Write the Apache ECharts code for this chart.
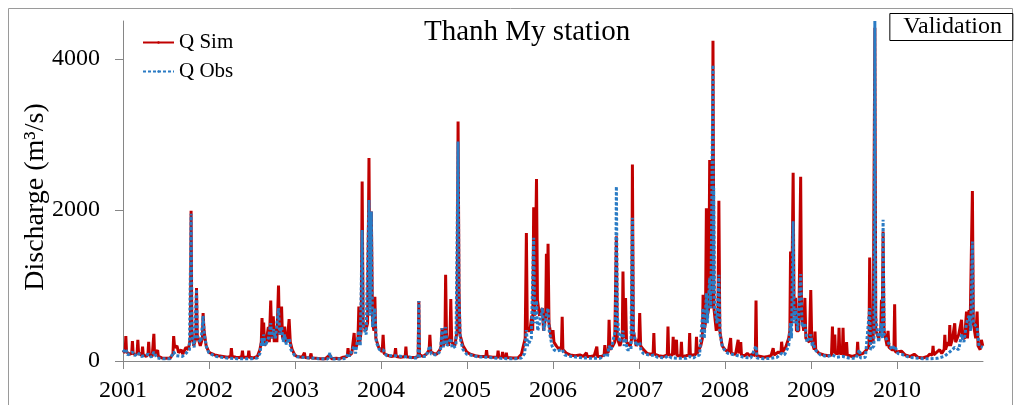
<!DOCTYPE html>
<html>
<head>
<meta charset="utf-8">
<title>Thanh My station</title>
<script src="https://cdn.jsdelivr.net/npm/echarts@6/dist/echarts.min.js"></script>
<style>
  html, body { margin: 0; padding: 0; background: #ffffff; }
  #chart { width: 1016px; height: 405px; }
</style>
</head>
<body>
<div id="chart"></div>
<script>
// Daily discharge at Thanh My station, 2001-2010 (m3/s), key readings per season.
const yearTicks = [2001, 2002, 2003, 2004, 2005, 2006, 2007, 2008, 2009, 2010];
const yTicks = [0, 2000, 4000];

// Simulated discharge (Q Sim)
const qSim = [
  ['2001-01-01',140],['2001-01-10',110],['2001-01-13',330],['2001-01-16',120],['2001-01-28',90],['2001-02-07',100],['2001-02-10',265],['2001-02-13',100],['2001-02-24',80],['2001-03-02',110],['2001-03-05',280],['2001-03-08',110],['2001-03-22',70],['2001-03-25',190],['2001-03-28',80],['2001-04-10',60],['2001-04-17',90],['2001-04-20',255],['2001-04-23',80],['2001-05-05',60],['2001-05-12',360],['2001-05-15',90],['2001-05-28',145],['2001-05-31',60],['2001-06-15',40],['2001-07-01',35],['2001-07-20',40],['2001-08-01',90],['2001-08-04',330],['2001-08-08',180],['2001-08-18',200],['2001-08-25',110],['2001-09-05',150],['2001-09-12',90],['2001-09-25',180],['2001-10-05',150],['2001-10-14',300],['2001-10-17',1990],['2001-10-20',400],['2001-10-28',200],['2001-11-06',300],['2001-11-09',965],['2001-11-12',350],['2001-11-25',200],['2001-12-04',300],['2001-12-07',635],['2001-12-11',400],['2001-12-20',200],['2001-12-31',120],
  ['2002-01-10',100],['2002-01-25',80],['2002-02-10',70],['2002-03-01',60],['2002-03-20',50],['2002-04-03',60],['2002-04-06',170],['2002-04-09',60],['2002-04-25',50],['2002-05-10',45],['2002-05-20',60],['2002-05-23',137],['2002-05-26',50],['2002-06-16',50],['2002-06-19',137],['2002-06-22',50],['2002-07-10',40],['2002-07-25',60],['2002-08-05',150],['2002-08-11',250],['2002-08-14',570],['2002-08-17',300],['2002-08-21',510],['2002-08-25',200],['2002-09-03',300],['2002-09-10',450],['2002-09-14',250],['2002-09-20',800],['2002-09-24',300],['2002-10-01',590],['2002-10-05',250],['2002-10-12',450],['2002-10-16',250],['2002-10-23',1000],['2002-10-27',350],['2002-11-01',500],['2002-11-05',720],['2002-11-09',300],['2002-11-18',455],['2002-11-22',250],['2002-11-30',300],['2002-12-07',555],['2002-12-12',250],['2002-12-20',150],['2002-12-31',80],
  ['2003-01-10',60],['2003-02-01',50],['2003-02-10',110],['2003-02-13',45],['2003-03-05',40],['2003-03-10',100],['2003-03-13',40],['2003-04-01',35],['2003-04-20',30],['2003-05-10',30],['2003-05-29',80],['2003-06-05',30],['2003-06-25',35],['2003-07-10',30],['2003-07-25',50],['2003-08-11',60],['2003-08-14',170],['2003-08-18',70],['2003-08-30',100],['2003-09-06',120],['2003-09-09',370],['2003-09-13',150],['2003-09-25',250],['2003-09-29',720],['2003-10-03',250],['2003-10-09',400],['2003-10-13',2375],['2003-10-17',500],['2003-10-28',400],['2003-11-05',500],['2003-11-11',2685],['2003-11-15',700],['2003-11-21',1980],['2003-11-26',500],['2003-12-02',400],['2003-12-06',850],['2003-12-10',300],['2003-12-22',180],
  ['2004-01-06',120],['2004-01-10',345],['2004-01-14',100],['2004-01-25',80],['2004-02-15',60],['2004-02-28',70],['2004-03-03',170],['2004-03-06',60],['2004-03-25',50],['2004-04-13',60],['2004-04-16',190],['2004-04-19',55],['2004-05-10',45],['2004-05-28',50],['2004-06-07',60],['2004-06-10',795],['2004-06-13',80],['2004-06-28',60],['2004-07-15',100],['2004-07-24',150],['2004-07-27',345],['2004-07-31',120],['2004-08-12',100],['2004-08-25',90],['2004-09-08',150],['2004-09-13',200],['2004-09-17',435],['2004-09-21',200],['2004-09-29',250],['2004-10-02',1140],['2004-10-06',300],['2004-10-14',200],['2004-10-21',350],['2004-10-24',820],['2004-10-28',250],['2004-11-10',200],['2004-11-20',400],['2004-11-24',3170],['2004-11-28',950],['2004-12-02',350],['2004-12-15',200],['2004-12-31',120],
  ['2005-01-15',90],['2005-02-05',70],['2005-02-25',60],['2005-03-22',60],['2005-03-25',145],['2005-03-28',60],['2005-04-20',50],['2005-05-10',50],['2005-05-13',137],['2005-05-16',50],['2005-05-29',50],['2005-06-01',120],['2005-06-04',50],['2005-06-14',50],['2005-06-17',110],['2005-06-20',45],['2005-07-15',40],['2005-08-05',40],['2005-08-20',90],['2005-08-28',80],['2005-09-05',300],['2005-09-10',1695],['2005-09-14',400],['2005-09-25',400],['2005-10-03',600],['2005-10-07',400],['2005-10-11',2035],['2005-10-15',600],['2005-10-23',2410],['2005-10-27',800],['2005-11-05',600],['2005-11-17',700],['2005-11-22',400],['2005-12-01',600],['2005-12-04',1420],['2005-12-08',700],['2005-12-11',1550],['2005-12-15',500],['2005-12-25',300],
  ['2006-01-01',410],['2006-01-05',250],['2006-01-15',200],['2006-01-28',150],['2006-02-06',200],['2006-02-09',585],['2006-02-12',150],['2006-02-28',100],['2006-03-15',80],['2006-04-05',70],['2006-04-25',80],['2006-05-10',60],['2006-05-23',110],['2006-05-26',60],['2006-06-10',60],['2006-06-25',70],['2006-07-03',60],['2006-07-06',190],['2006-07-09',60],['2006-07-25',60],['2006-08-06',80],['2006-08-09',210],['2006-08-13',100],['2006-08-24',120],['2006-08-27',545],['2006-08-31',150],['2006-09-12',200],['2006-09-20',250],['2006-09-23',850],['2006-09-27',1650],['2006-10-01',300],['2006-10-12',200],['2006-10-22',300],['2006-10-25',1185],['2006-10-29',300],['2006-11-05',835],['2006-11-09',250],['2006-11-25',200],['2006-12-01',300],['2006-12-04',2600],['2006-12-08',400],['2006-12-20',200],
  ['2007-01-01',300],['2007-01-04',635],['2007-01-08',200],['2007-01-20',150],['2007-02-05',100],['2007-02-20',90],['2007-03-02',100],['2007-03-05',370],['2007-03-08',90],['2007-03-25',70],['2007-04-15',60],['2007-05-01',80],['2007-05-04',455],['2007-05-07',80],['2007-05-23',80],['2007-05-26',320],['2007-05-29',80],['2007-06-06',80],['2007-06-09',280],['2007-06-12',70],['2007-06-27',70],['2007-06-30',255],['2007-07-03',60],['2007-07-20',70],['2007-08-01',80],['2007-08-04',370],['2007-08-07',80],['2007-08-20',80],['2007-08-30',90],['2007-09-02',320],['2007-09-05',100],['2007-09-20',200],['2007-09-27',300],['2007-09-30',875],['2007-10-04',400],['2007-10-10',500],['2007-10-14',2020],['2007-10-18',600],['2007-10-24',700],['2007-10-28',2660],['2007-11-01',800],['2007-11-07',700],['2007-11-11',4240],['2007-11-15',700],['2007-11-25',400],['2007-12-02',500],['2007-12-06',2120],['2007-12-10',400],['2007-12-20',200],
  ['2008-01-01',150],['2008-01-15',120],['2008-01-22',120],['2008-01-25',305],['2008-01-28',100],['2008-02-15',90],['2008-02-23',100],['2008-02-26',280],['2008-03-01',100],['2008-03-05',100],['2008-03-08',250],['2008-03-11',80],['2008-03-25',70],['2008-04-05',100],['2008-04-15',70],['2008-04-25',90],['2008-05-09',70],['2008-05-12',800],['2008-05-15',70],['2008-06-01',60],['2008-06-15',50],['2008-07-01',60],['2008-07-15',70],['2008-07-24',170],['2008-07-28',80],['2008-08-15',120],['2008-08-26',100],['2008-08-29',255],['2008-09-02',120],['2008-09-15',180],['2008-09-28',300],['2008-10-03',400],['2008-10-06',1450],['2008-10-10',500],['2008-10-14',500],['2008-10-17',2490],['2008-10-21',600],['2008-10-27',835],['2008-10-31',400],['2008-11-10',400],['2008-11-18',2440],['2008-11-22',600],['2008-12-01',400],['2008-12-06',835],['2008-12-10',300],['2008-12-25',250],['2008-12-31',940],
  ['2009-01-04',300],['2009-01-10',200],['2009-01-15',150],['2009-01-18',390],['2009-01-21',150],['2009-02-05',100],['2009-02-25',80],['2009-03-15',70],['2009-03-29',80],['2009-04-02',455],['2009-04-05',100],['2009-04-09',100],['2009-04-12',350],['2009-04-15',100],['2009-04-27',100],['2009-04-30',440],['2009-05-03',100],['2009-05-14',100],['2009-05-17',440],['2009-05-20',90],['2009-05-29',90],['2009-06-01',250],['2009-06-04',80],['2009-06-25',60],['2009-07-15',80],['2009-07-18',255],['2009-07-21',80],['2009-08-10',100],['2009-08-25',150],['2009-09-04',200],['2009-09-07',1370],['2009-09-11',250],['2009-09-22',250],['2009-09-29',4410],['2009-10-03',400],['2009-10-15',300],['2009-10-24',400],['2009-10-27',810],['2009-10-30',400],['2009-11-03',1715],['2009-11-07',400],['2009-11-20',200],['2009-11-24',400],['2009-11-28',180],['2009-12-10',150],['2009-12-19',150],['2009-12-22',750],['2009-12-25',120],
  ['2010-01-20',130],['2010-02-05',80],['2010-02-25',60],['2010-03-15',90],['2010-03-30',50],['2010-04-20',40],['2010-05-10',60],['2010-05-20',90],['2010-05-31',80],['2010-06-03',200],['2010-06-06',80],['2010-06-20',120],['2010-07-01',150],['2010-07-10',100],['2010-07-20',150],['2010-07-23',345],['2010-07-26',150],['2010-08-05',250],['2010-08-10',200],['2010-08-13',475],['2010-08-16',200],['2010-08-25',300],['2010-09-03',500],['2010-09-07',250],['2010-09-20',350],['2010-10-02',545],['2010-10-06',300],['2010-10-15',300],['2010-10-23',655],['2010-10-27',300],['2010-11-03',675],['2010-11-07',400],['2010-11-14',400],['2010-11-17',2250],['2010-11-21',500],['2010-12-01',300],['2010-12-07',655],['2010-12-11',200],['2010-12-20',150],['2010-12-25',280],['2010-12-31',200]
];

// Observed discharge (Q Obs)
const qObs = [
  ['2001-01-01',120],['2001-01-13',160],['2001-01-20',80],['2001-02-10',120],['2001-02-20',70],['2001-03-05',110],['2001-03-20',60],['2001-04-20',90],['2001-05-01',50],['2001-05-12',120],['2001-05-25',40],['2001-06-20',30],['2001-07-20',30],['2001-08-04',120],['2001-08-15',70],['2001-09-10',60],['2001-09-25',100],['2001-10-10',150],['2001-10-17',1950],['2001-10-21',350],['2001-10-30',180],['2001-11-09',950],['2001-11-13',300],['2001-11-28',250],['2001-12-07',600],['2001-12-12',350],['2001-12-22',180],['2001-12-31',110],
  ['2002-01-10',90],['2002-02-01',60],['2002-03-01',45],['2002-04-01',35],['2002-05-01',30],['2002-06-01',28],['2002-07-01',30],['2002-07-25',40],['2002-08-05',100],['2002-08-14',300],['2002-08-18',200],['2002-08-21',350],['2002-08-28',200],['2002-09-10',300],['2002-09-20',500],['2002-09-25',300],['2002-10-01',420],['2002-10-10',300],['2002-10-23',700],['2002-10-28',350],['2002-11-05',450],['2002-11-12',250],['2002-11-18',350],['2002-11-25',220],['2002-12-07',300],['2002-12-15',150],['2002-12-31',70],
  ['2003-01-10',55],['2003-02-10',45],['2003-03-10',40],['2003-04-10',30],['2003-05-20',25],['2003-05-29',105],['2003-06-05',25],['2003-07-10',25],['2003-08-05',35],['2003-08-14',100],['2003-08-20',60],['2003-09-09',200],['2003-09-15',100],['2003-09-29',400],['2003-10-05',200],['2003-10-13',1735],['2003-10-18',450],['2003-10-30',350],['2003-11-11',2130],['2003-11-15',600],['2003-11-21',1980],['2003-11-26',450],['2003-12-06',700],['2003-12-12',250],['2003-12-25',150],
  ['2004-01-10',150],['2004-01-25',70],['2004-03-03',70],['2004-04-16',55],['2004-05-20',40],['2004-06-07',40],['2004-06-10',795],['2004-06-13',60],['2004-07-10',60],['2004-07-27',200],['2004-08-02',90],['2004-08-25',80],['2004-09-10',130],['2004-09-17',435],['2004-09-22',180],['2004-10-02',450],['2004-10-08',200],['2004-10-24',300],['2004-10-30',170],['2004-11-15',200],['2004-11-24',2905],['2004-11-28',900],['2004-12-03',300],['2004-12-15',150],['2004-12-31',90],
  ['2005-01-15',80],['2005-02-15',55],['2005-03-25',50],['2005-04-25',40],['2005-05-25',35],['2005-06-25',30],['2005-07-25',30],['2005-08-20',40],['2005-09-03',100],['2005-09-10',410],['2005-09-15',200],['2005-10-01',300],['2005-10-11',1630],['2005-10-15',500],['2005-10-23',800],['2005-10-28',400],['2005-11-05',500],['2005-11-17',700],['2005-11-23',400],['2005-12-04',600],['2005-12-11',700],['2005-12-16',400],['2005-12-28',200],
  ['2006-01-05',150],['2006-01-15',130],['2006-02-09',150],['2006-02-20',80],['2006-03-20',60],['2006-04-20',45],['2006-05-20',40],['2006-06-20',35],['2006-07-20',35],['2006-08-09',80],['2006-08-20',60],['2006-08-27',200],['2006-09-05',150],['2006-09-15',300],['2006-09-23',400],['2006-09-27',2310],['2006-10-01',600],['2006-10-10',250],['2006-10-25',400],['2006-10-30',200],['2006-11-05',300],['2006-11-12',150],['2006-11-28',150],['2006-12-04',1895],['2006-12-08',400],['2006-12-20',200],
  ['2007-01-04',250],['2007-01-10',130],['2007-01-20',100],['2007-02-20',70],['2007-03-05',80],['2007-03-20',50],['2007-04-20',40],['2007-05-04',70],['2007-05-20',40],['2007-06-20',35],['2007-07-20',35],['2007-08-04',60],['2007-08-20',40],['2007-09-02',70],['2007-09-15',80],['2007-09-30',700],['2007-10-05',300],['2007-10-14',900],['2007-10-18',500],['2007-10-28',1100],['2007-11-02',700],['2007-11-11',3920],['2007-11-13',900],['2007-11-14',2290],['2007-11-18',700],['2007-11-28',500],['2007-12-06',1140],['2007-12-11',350],['2007-12-22',180],
  ['2008-01-05',120],['2008-01-15',100],['2008-02-26',70],['2008-03-20',50],['2008-04-20',40],['2008-05-12',200],['2008-05-16',40],['2008-06-15',30],['2008-07-15',35],['2008-08-10',50],['2008-08-29',100],['2008-09-10',80],['2008-09-28',200],['2008-10-06',500],['2008-10-10',300],['2008-10-17',1850],['2008-10-21',500],['2008-10-27',700],['2008-11-05',400],['2008-11-18',1150],['2008-11-24',450],['2008-12-06',500],['2008-12-15',250],['2008-12-31',350],
  ['2009-01-06',200],['2009-01-10',250],['2009-01-18',150],['2009-02-10',80],['2009-03-10',60],['2009-04-02',80],['2009-04-20',50],['2009-05-17',60],['2009-06-10',40],['2009-07-10',35],['2009-07-26',150],['2009-07-30',40],['2009-08-20',50],['2009-09-07',700],['2009-09-11',150],['2009-09-25',200],['2009-09-29',4500],['2009-10-02',600],['2009-10-15',250],['2009-10-27',500],['2009-10-31',300],['2009-11-03',1870],['2009-11-07',350],['2009-11-24',250],['2009-12-10',150],['2009-12-22',200],
  ['2010-01-05',100],['2010-01-20',90],['2010-02-20',50],['2010-03-20',40],['2010-04-20',30],['2010-05-20',30],['2010-06-20',35],['2010-07-20',60],['2010-08-13',120],['2010-09-03',180],['2010-09-20',150],['2010-10-02',350],['2010-10-12',250],['2010-10-23',500],['2010-11-03',600],['2010-11-10',400],['2010-11-17',1580],['2010-11-21',500],['2010-12-07',450],['2010-12-15',200],['2010-12-31',180]
];

// Place each reading on a decimal-year axis so the year ticks sit on 1 January.
function decimalYear(dateStr) {
  const [y, m, d] = dateStr.split('-').map(Number);
  const t0 = Date.UTC(y, 0, 1);
  const t1 = Date.UTC(y + 1, 0, 1);
  return y + (Date.UTC(y, m - 1, d) - t0) / (t1 - t0);
}
const toPoints = rows => rows.map(([d, v]) => [decimalYear(d), v]);

const SERIF = '"Liberation Serif", "Times New Roman", serif';
const AXIS_GREY = '#868686';
const chart = echarts.init(document.getElementById('chart'), null, { renderer: 'canvas' });

chart.setOption({
  animation: false,
  backgroundColor: '#ffffff',
  title: [
    {
      text: 'Thanh My station',
      left: 424, top: 18, padding: 0,
      textStyle: { fontFamily: SERIF, fontSize: 29, fontWeight: 'normal', color: '#000' }
    },
    {
      text: 'Validation',
      right: 3, top: 13,
      padding: [2, 11, 2, 14],
      borderColor: '#000', borderWidth: 1,
      textStyle: { fontFamily: SERIF, fontSize: 24, fontWeight: 'normal', color: '#000' }
    }
  ],
  legend: {
    orient: 'vertical',
    left: 142, top: 32, padding: 0,
    itemWidth: 31, itemHeight: 3, itemGap: 8,
    textStyle: { fontFamily: SERIF, fontSize: 21, color: '#000' },
    data: ['Q Sim', 'Q Obs']
  },
  grid: { left: 123, right: 33, top: 21, bottom: 44, containLabel: false },
  xAxis: {
    type: 'value',
    min: 2001, max: 2011, interval: 1,
    axisLine: { show: true, lineStyle: { color: AXIS_GREY, width: 1 } },
    axisTick: { show: true, inside: false, length: 8, lineStyle: { color: AXIS_GREY }, customValues: yearTicks },
    axisLabel: {
      customValues: yearTicks,
      margin: 18,
      fontFamily: SERIF, fontSize: 24, color: '#000',
      formatter: v => String(v)
    },
    splitLine: { show: false }
  },
  yAxis: {
    type: 'value',
    min: 0, max: 4500,
    axisLine: { show: true, lineStyle: { color: AXIS_GREY, width: 1 } },
    axisTick: { show: true, inside: false, length: 8, lineStyle: { color: AXIS_GREY }, customValues: yTicks },
    axisLabel: {
      customValues: yTicks, margin: 23,
      fontFamily: SERIF, fontSize: 24, color: '#000',
      formatter: v => String(v)
    },
    splitLine: { show: false }
  },
  graphic: [
    {
      type: 'rect',
      shape: { x: 8.5, y: 8.5, width: 1004, height: 400 },
      style: { fill: 'none', stroke: '#9a9a9a', lineWidth: 1 },
      silent: true, z: -1
    },
    {
      type: 'text',
      x: 36, y: 197,
      rotation: Math.PI / 2,
      style: {
        text: 'Discharge (m³/s)',
        font: '28px ' + SERIF,
        fill: '#000',
        textAlign: 'center',
        textVerticalAlign: 'middle'
      },
      silent: true
    }
  ],
  series: [
    {
      name: 'Q Sim',
      type: 'line',
      data: toPoints(qSim),
      symbol: 'none',
      showSymbol: false,
      lineStyle: { color: '#C00000', width: 3 },
      itemStyle: { color: '#C00000' },
      z: 2
    },
    {
      name: 'Q Obs',
      type: 'line',
      data: toPoints(qObs),
      symbol: 'none',
      showSymbol: false,
      lineStyle: { color: '#2A7BC4', width: 3, type: [3, 2] },
      itemStyle: { color: '#2A7BC4' },
      z: 3
    }
  ]
});
</script>
</body>
</html>
